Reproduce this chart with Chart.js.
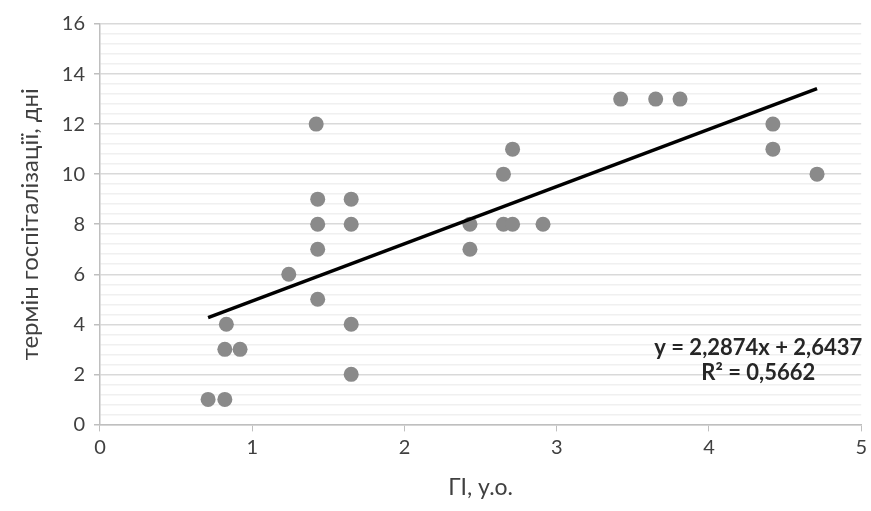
<!DOCTYPE html>
<html>
<head>
<meta charset="utf-8">
<script src="https://cdn.jsdelivr.net/npm/chart.js@4.4.1/dist/chart.umd.min.js"></script>
<style>
  html, body { margin: 0; padding: 0; background: #fff; }
  #wrap { width: 871px; height: 511px; }
</style>
</head>
<body>
<div id="wrap"><canvas id="scatterChart" width="871" height="511"></canvas></div>
<script>
// values
const giValues = [0.71, 0.82, 0.82, 0.92, 0.83, 1.24, 1.42, 1.43, 1.43, 1.43, 1.43,
                  1.65, 1.65, 1.65, 1.65, 2.43, 2.43, 2.65, 2.65, 2.71, 2.71, 2.91,
                  3.42, 3.65, 3.81, 4.42, 4.42, 4.71];
const stayDays = [1, 1, 3, 3, 4, 6, 12, 9, 8, 7, 5,
                  9, 8, 4, 2, 8, 7, 10, 8, 11, 8, 8,
                  13, 13, 13, 12, 11, 10];
const trendSlope = 2.2874;
const trendIntercept = 2.6437;
const equationLines = ['y = 2,2874x + 2,6437', 'R² = 0,5662'];
const xTitle = 'ГІ, у.о.';
const yTitle = 'термін госпіталізації, дні';

document.addEventListener('DOMContentLoaded', function() {
    const ctx = document.getElementById('scatterChart').getContext('2d');

    const points = giValues.map((x, i) => ({ x: x, y: stayDays[i] }));
    const xMin = Math.min(...giValues);
    const xMax = Math.max(...giValues);
    const trendPoints = [
        { x: xMin, y: trendSlope * xMin + trendIntercept },
        { x: xMax, y: trendSlope * xMax + trendIntercept }
    ];

    const isMajor = v => Math.abs(v / 2 - Math.round(v / 2)) < 1e-6;
    const fontFamily = 'Lato, "Open Sans", sans-serif';

    // equation label, bottom right of the plot
    const equationPlugin = {
        id: 'equationLabel',
        afterDatasetsDraw(chart) {
            const c = chart.ctx;
            const area = chart.chartArea;
            c.save();
            c.font = 'bold 22px ' + fontFamily;
            c.fillStyle = '#262626';
            c.textBaseline = 'middle';
            c.textAlign = 'right';
            const rightX = area.right + 1;
            c.fillText(equationLines[0], rightX, 348);
            const w0 = c.measureText(equationLines[0]).width;
            c.textAlign = 'center';
            c.fillText(equationLines[1], rightX - w0 / 2, 373);
            c.restore();
        }
    };

    new Chart(ctx, {
        type: 'scatter',
        data: {
            datasets: [
                {
                    label: 'data',
                    data: points,
                    backgroundColor: '#8a8a8a',
                    borderColor: '#8a8a8a',
                    pointRadius: 7.5,
                    pointHoverRadius: 7.5,
                    borderWidth: 0,
                    order: 2
                },
                {
                    label: 'trend',
                    type: 'line',
                    data: trendPoints,
                    borderColor: '#000',
                    borderWidth: 3.4,
                    pointRadius: 0,
                    fill: false,
                    order: 1
                }
            ]
        },
        options: {
            responsive: false,
            animation: false,
            layout: { padding: { left: 16, right: 0, top: 24, bottom: 10 } },
            plugins: {
                legend: { display: false },
                tooltip: { enabled: false }
            },
            scales: {
                x: {
                    type: 'linear',
                    min: 0,
                    max: 5,
                    ticks: {
                        stepSize: 1,
                        color: '#404040',
                        font: { family: fontFamily, size: 20 },
                        padding: 4
                    },
                    grid: {
                        drawOnChartArea: false,
                        drawTicks: true,
                        tickLength: 7,
                        tickColor: '#bfbfbf'
                    },
                    border: { color: '#bfbfbf', width: 1.5 },
                    title: {
                        display: true,
                        text: xTitle,
                        color: '#404040',
                        font: { family: fontFamily, size: 23 },
                        padding: { top: 10, bottom: 0 }
                    }
                },
                y: {
                    min: 0,
                    max: 16,
                    ticks: {
                        stepSize: 0.4,
                        autoSkip: false,
                        color: '#404040',
                        font: { family: fontFamily, size: 20 },
                        padding: 9,
                        callback: v => isMajor(v) ? String(Math.round(v)) : ''
                    },
                    grid: {
                        color: c => isMajor(c.tick.value) ? '#d9d9d9' : '#f0f0f0',
                        lineWidth: 1.5,
                        tickColor: c => isMajor(c.tick.value) ? '#bfbfbf' : 'rgba(0,0,0,0)',
                        tickLength: 6
                    },
                    border: { color: '#bfbfbf', width: 1.5 },
                    title: {
                        display: true,
                        text: yTitle,
                        color: '#404040',
                        font: { family: fontFamily, size: 24 },
                        padding: { top: 0, bottom: 8 }
                    }
                }
            }
        },
        plugins: [equationPlugin]
    });
});
</script>
</body>
</html>
